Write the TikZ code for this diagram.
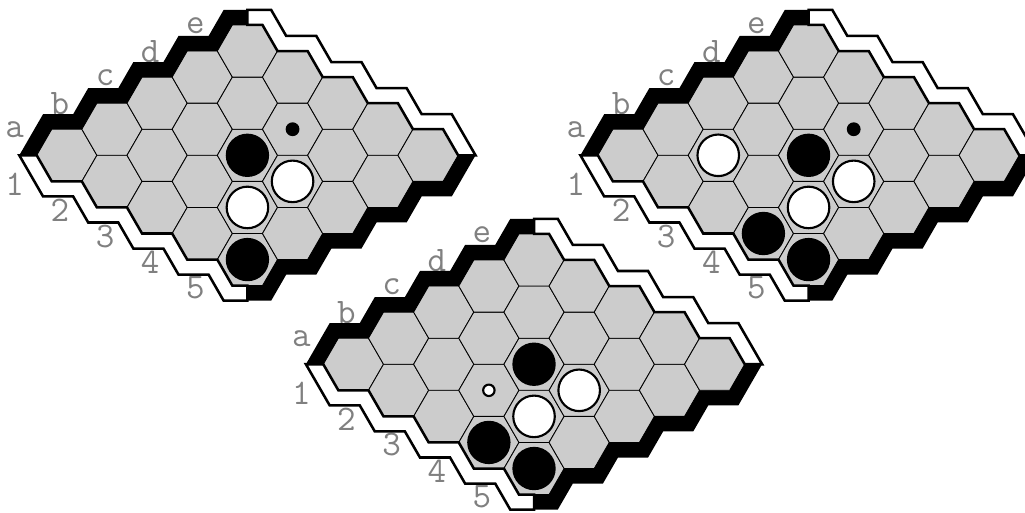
\documentclass[tikz,border=0pt]{standalone}
\usepackage{fontspec}
\usepackage{tikz}

\definecolor{cellgray}{gray}{0.8}
\definecolor{labelgray}{gray}{0.5}

\tikzset{
  cell/.style={fill=cellgray,draw=black,line width=0.8pt},
  blackedge/.style={fill=black},
  whiteedge/.style={fill=white,draw=black,line width=2.4pt},
  bstone/.style={fill=black},
  wstone/.style={fill=white,draw=black,line width=2pt},
  coordlabel/.style={text=labelgray,font=\ttfamily\fontsize{34}{34}\selectfont,inner sep=0pt},
}

% one side of the frame, drawn for the a..e side and mirrored for the others
\newcommand\edgestrip[1]{%
  \path[#1] (-1,0) \foreach \k in {1,...,4} {-- ++(0.5,0.866) -- ++(1,0)}
    -- ++(0.5,0.866) -- ++(0.5,0) -- ++(0,0.5) -- ++(-0.789,0)
    \foreach \k in {1,...,4} {-- ++(-0.5,-0.866) -- ++(-1,0)}
    -- ++(-0.789,-1.366) -- cycle;}

% empty 5x5 board, a1 at the origin
\newcommand\hexboard{%
  \foreach \i/\l in {0/a,1/b,2/c,3/d,4/e} {
    \foreach \j in {1,...,5} {
      \coordinate (\l\j) at ({1.5*(\i+\j-1)},{0.866*(\i-\j+1)});
      \draw[cell] (\l\j) +(0:1) -- +(60:1) -- +(120:1) -- +(180:1) -- +(240:1) -- +(300:1) -- cycle;
    }
    \node[coordlabel] (col-\l) at ({-1.73+1.5*\i},{0.84+0.866*\i}) {\l};
  }
  \foreach \j in {1,...,5}
    \node[coordlabel] (row-\j) at ({-1.73+1.5*(\j-1)},{-0.95-0.866*(\j-1)}) {\j};
  \edgestrip{blackedge}
  \begin{scope}[yscale=-1] \edgestrip{whiteedge} \end{scope}
  \begin{scope}[xshift=12cm,xscale=-1] \edgestrip{whiteedge} \end{scope}
  \begin{scope}[xshift=12cm,rotate=180] \edgestrip{blackedge} \end{scope}
}

\begin{document}
\begin{tikzpicture}
  \useasboundingbox (0,0) rectangle (34.05,-17.01);

  % top left board
  \begin{scope}[shift={(2.219,-5.159)}]
    \hexboard
    \fill[bstone] (c3) circle (0.72);
    \fill[bstone] (a5) circle (0.72);
    \draw[wstone] (c4) circle (0.69);
    \draw[wstone] (b4) circle (0.69);
    \fill[bstone] (d3) circle (0.23);
  \end{scope}

  % top right board
  \begin{scope}[shift={(20.86,-5.159)}]
    \hexboard
    \draw[wstone] (b2) circle (0.69);
    \fill[bstone] (c3) circle (0.72);
    \fill[bstone] (d3) circle (0.23);
    \draw[wstone] (c4) circle (0.69);
    \draw[wstone] (b4) circle (0.69);
    \fill[bstone] (a4) circle (0.72);
    \fill[bstone] (a5) circle (0.72);
  \end{scope}

  % bottom board
  \begin{scope}[shift={(11.74,-12.10)}]
    \hexboard
    \fill[bstone] (c3) circle (0.72);
    \draw[wstone] (c4) circle (0.69);
    \draw[wstone] (b4) circle (0.69);
    \fill[bstone] (a4) circle (0.72);
    \fill[bstone] (a5) circle (0.72);
    \draw[wstone] (b3) circle (0.19);
  \end{scope}
\end{tikzpicture}
\end{document}
